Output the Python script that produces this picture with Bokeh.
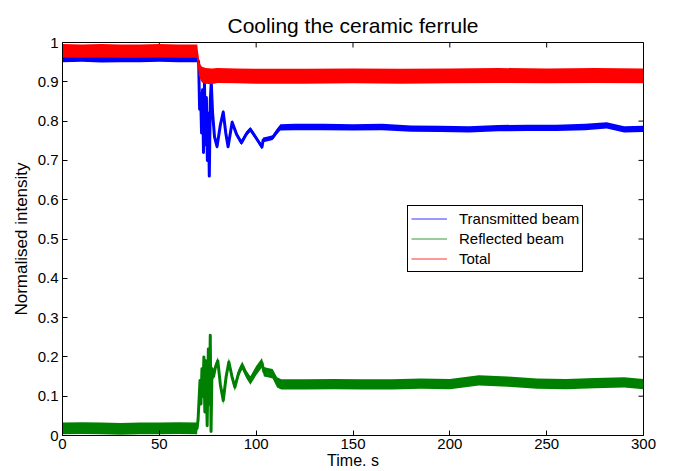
import math
from bokeh.plotting import figure
from bokeh.models import Range1d, FixedTicker, Legend, LegendItem
from bokeh.embed import file_html
from bokeh.resources import INLINE

# ---------------- data ----------------
title_text = "Cooling the ceramic ferrule"
x_label = "Time. s"
y_label = "Normalised intensity"

x_ticks = [0, 50, 100, 150, 200, 250, 300]
x_tick_labels = ["0", "50", "100", "150", "200", "250", "300"]
y_ticks = [0, 0.1, 0.2, 0.3, 0.4, 0.5, 0.6, 0.7, 0.8, 0.9, 1]
y_tick_labels = ["0", "0.1", "0.2", "0.3", "0.4", "0.5", "0.6", "0.7", "0.8", "0.9", "1"]

series_names = ["Transmitted beam", "Reflected beam", "Total"]

# Transmitted beam: time (s), mean level, noise half-width
tr_t = [0, 10, 20, 30, 40, 50, 60, 69.8,
        70.3, 70.8, 71.3, 71.8, 72.3, 72.8, 73.3, 73.8, 74.3, 74.8, 75.3, 75.8, 76.3, 76.8, 77.5, 78.5, 79.8,
        81.5, 83.0, 84.3, 85.5, 87.6, 90.0, 92.4, 95.0, 97.0, 100.0, 103.0, 103.6, 106.0, 108.5, 110.5, 112.5,
        120, 135, 150, 165, 180, 195, 210, 225, 240, 255, 270, 281, 290, 300]
tr_y = [0.957, 0.958, 0.956, 0.957, 0.957, 0.958, 0.957, 0.957,
        0.950, 0.830, 0.870, 0.770, 0.880, 0.720, 0.900, 0.740, 0.860, 0.700, 0.820, 0.660, 0.850, 0.900, 0.820, 0.760, 0.735,
        0.790, 0.823, 0.770, 0.735, 0.797, 0.765, 0.745, 0.768, 0.779, 0.757, 0.734, 0.752, 0.755, 0.758, 0.772, 0.784,
        0.785, 0.785, 0.784, 0.785, 0.781, 0.780, 0.779, 0.782, 0.783, 0.783, 0.785, 0.789, 0.779, 0.780]
tr_hw = [0.007, 0.007, 0.007, 0.007, 0.007, 0.007, 0.007, 0.007,
         0.004, 0.004, 0.004, 0.004, 0.004, 0.004, 0.004, 0.004, 0.004, 0.004, 0.004, 0.004, 0.004, 0.004, 0.005, 0.005, 0.006,
         0.006, 0.006, 0.006, 0.006, 0.006, 0.006, 0.006, 0.006, 0.006, 0.006, 0.006, 0.006, 0.006, 0.006, 0.007, 0.008,
         0.008, 0.008, 0.008, 0.008, 0.008, 0.008, 0.008, 0.008, 0.008, 0.008, 0.008, 0.008, 0.008, 0.008]

# Reflected beam
rf_t = [0, 10, 20, 30, 40, 50, 60, 69.5,
        70.0, 70.5, 71.0, 71.5, 72.0, 72.5, 73.0, 73.5, 74.0, 74.7, 75.3, 75.8, 76.3, 76.7, 77.2, 78.0, 79.0, 80.2,
        81.5, 83.0, 84.5, 85.9, 87.5, 89.0, 91.0, 92.8, 95.0, 97.0, 100.0, 103.0, 104.0, 106.0, 108.5, 110.8, 113.0,
        125, 140, 155, 170, 185, 200, 215, 230, 245, 260, 275, 290, 300]
rf_y = [0.018, 0.019, 0.018, 0.017, 0.018, 0.018, 0.019, 0.018,
        0.040, 0.090, 0.140, 0.080, 0.170, 0.100, 0.200, 0.060, 0.190, 0.025, 0.220, 0.080, 0.255, 0.010, 0.170, 0.150, 0.175, 0.190,
        0.130, 0.089, 0.150, 0.187, 0.150, 0.123, 0.160, 0.178, 0.155, 0.140, 0.165, 0.185, 0.162, 0.160, 0.157, 0.135, 0.130,
        0.130, 0.131, 0.130, 0.130, 0.132, 0.131, 0.140, 0.137, 0.132, 0.131, 0.133, 0.135, 0.131]
rf_hw = [0.015, 0.015, 0.015, 0.015, 0.015, 0.015, 0.015, 0.015,
         0.005, 0.005, 0.005, 0.005, 0.005, 0.005, 0.005, 0.005, 0.005, 0.005, 0.005, 0.005, 0.005, 0.005, 0.006, 0.008, 0.009, 0.010,
         0.010, 0.010, 0.010, 0.010, 0.010, 0.010, 0.010, 0.010, 0.010, 0.011, 0.012, 0.012, 0.012, 0.012, 0.012, 0.013, 0.013,
         0.013, 0.013, 0.013, 0.013, 0.013, 0.013, 0.013, 0.013, 0.013, 0.013, 0.013, 0.013, 0.013]

# Total
tot_t = [0, 10, 20, 30, 40, 50, 60, 69.6, 70.4, 71.2, 72, 74, 77, 80, 90, 100, 125, 150, 175, 200, 225, 250, 275, 300]
tot_y = [0.979, 0.978, 0.979, 0.978, 0.978, 0.979, 0.978, 0.978, 0.935, 0.925, 0.918, 0.915, 0.914, 0.916,
         0.915, 0.914, 0.914, 0.915, 0.914, 0.915, 0.916, 0.915, 0.916, 0.915]
tot_hw = [0.017, 0.017, 0.017, 0.017, 0.017, 0.017, 0.017, 0.017, 0.018, 0.019, 0.020, 0.020, 0.020, 0.019,
          0.019, 0.019, 0.019, 0.019, 0.019, 0.019, 0.019, 0.019, 0.019, 0.019]

colors = ["#0000ff", "#008000", "#ff0000"]

# ---------------- figure ----------------
FONT = "Liberation Sans"
p = figure(width=676, height=471, x_range=Range1d(0, 300), y_range=Range1d(0, 1),
           output_backend="svg", toolbar_location=None,
           min_border_left=62, min_border_right=33, min_border_top=42, min_border_bottom=36)
p.background_fill_color = "white"
p.border_fill_color = "white"
p.outline_line_color = "black"
p.outline_line_alpha = 1
p.xgrid.visible = False
p.ygrid.visible = False

p.title.text = title_text
p.title.text_font = FONT
p.title.text_font_size = "21px"
p.title.text_font_style = "normal"
p.title.align = "center"
p.title.text_color = "black"
p.title.standoff = 12

def style_axis(ax, ticks, labels, standoff, label_size):
    ax.ticker = FixedTicker(ticks=ticks)
    ax.major_label_overrides = {t: l for t, l in zip(ticks, labels)}
    ax.major_tick_in = 5
    ax.major_tick_out = 0
    ax.minor_tick_in = 0
    ax.minor_tick_out = 0
    ax.axis_line_color = "black"
    ax.major_tick_line_color = "black"
    ax.major_label_text_font = FONT
    ax.major_label_text_color = "black"
    ax.major_label_standoff = standoff
    ax.major_label_text_font_size = "15px"
    ax.axis_label_text_font = FONT
    ax.axis_label_text_font_size = label_size
    ax.axis_label_text_font_style = "normal"
    ax.axis_label_text_color = "black"

style_axis(p.xaxis[0], x_ticks, x_tick_labels, 3, "16px")
p.xaxis[0].axis_label = x_label
p.xaxis[0].axis_label_standoff = 0
style_axis(p.yaxis[0], y_ticks, y_tick_labels, 4, "17px")
p.yaxis[0].axis_label = y_label
p.yaxis[0].axis_label_standoff = 4

# inward ticks on the top and right edges of the box
p.ray(x=x_ticks, y=[1] * len(x_ticks), length=5, length_units="screen",
      angle=-math.pi / 2, line_color="black", line_width=1)
p.ray(x=[300] * len(y_ticks), y=y_ticks, length=5, length_units="screen",
      angle=math.pi, line_color="black", line_width=1)

# ---------------- series ----------------
series = [(tr_t, tr_y, tr_hw, 3.0), (rf_t, rf_y, rf_hw, 3.0), (tot_t, tot_y, tot_hw, 1.4)]

# thin legend proxies (hidden under the bands)
proxies = [p.line(s[0], s[1], line_color=c, line_width=1, line_alpha=0.8) for s, c in zip(series, colors)]

for (t, y, hw, lw), c in zip(series, colors):
    lo = [a - b for a, b in zip(y, hw)]
    hi = [a + b for a, b in zip(y, hw)]
    p.varea(x=t, y1=lo, y2=hi, fill_color=c, fill_alpha=1.0)
    p.line(t, y, line_color=c, line_width=lw, line_join="round")

legend = Legend(items=[LegendItem(label=n, renderers=[r]) for n, r in zip(series_names, proxies)],
                location=(345, 163), margin=0, padding=3, spacing=1,
                glyph_width=36, glyph_height=19, label_height=19, label_standoff=12,
                label_text_font=FONT, label_text_font_size="15px", label_text_color="black",
                border_line_color="black", border_line_width=1, border_line_alpha=1,
                background_fill_color="white", background_fill_alpha=1)
p.add_layout(legend)

open("out.html", "w").write(file_html(p, INLINE))
